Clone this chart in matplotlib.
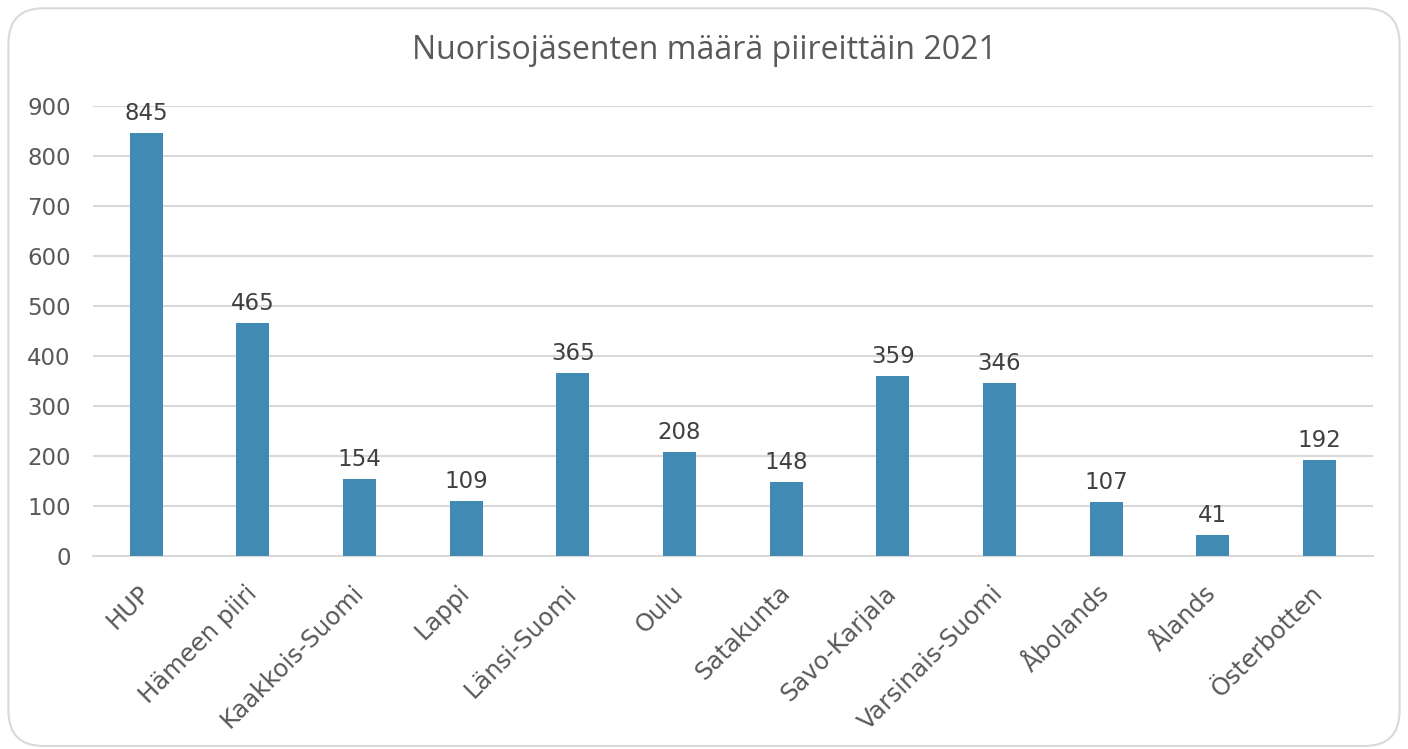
import matplotlib.pyplot as plt
from matplotlib.patches import FancyBboxPatch

plt.rcParams["font.family"] = ["DejaVu Sans"]

# Data
piirit = ["HUP", "Hämeen piiri", "Kaakkois-Suomi", "Lappi", "Länsi-Suomi", "Oulu",
          "Satakunta", "Savo-Karjala", "Varsinais-Suomi", "Åbolands", "Ålands",
          "Österbotten"]
jasenet = [845, 465, 154, 109, 365, 208, 148, 359, 346, 107, 41, 192]

bar_color = "#418AB3"
grid_color = "#D9D9D9"
text_color = "#595959"

fig = plt.figure(figsize=(14.08, 7.49), dpi=100)

# rounded chart frame (behind the axes)
frame = FancyBboxPatch((0.006, 0.004), 0.988, 0.985,
                       boxstyle="round,pad=0,rounding_size=0.025",
                       transform=fig.transFigure, facecolor="white",
                       edgecolor=grid_color, linewidth=1.5,
                       mutation_aspect=1408 / 749, zorder=-10)
fig.patches.append(frame)

ax = fig.add_axes([0.066, 0.2577, 0.909, 0.6008])
ax.set_facecolor("none")

x = range(len(piirit))
bars = ax.bar(x, jasenet, width=0.31, color=bar_color, zorder=3)

for xi, v in zip(x, jasenet):
    ax.annotate(str(v), xy=(xi, v), xytext=(0, 6), textcoords="offset points",
                ha="center", va="bottom", fontsize=16.5, color="#404040")

ax.set_xlim(-0.5, len(piirit) - 0.5)
ax.set_ylim(0, 900)
ax.set_yticks(range(0, 901, 100))
ax.yaxis.grid(True, color=grid_color, linewidth=1.5, zorder=0)
ax.set_axisbelow(True)
ax.tick_params(axis="y", length=0, labelsize=16.5, labelcolor=text_color, pad=16)
ax.tick_params(axis="x", length=0, labelsize=17.5, labelcolor=text_color, pad=24)
ax.set_xticks(list(x))
ax.set_xticklabels(piirit, rotation=45, ha="right", va="center",
                   rotation_mode="anchor")

for side in ["top", "right", "left"]:
    ax.spines[side].set_visible(False)
ax.spines["bottom"].set_color(grid_color)
ax.spines["bottom"].set_linewidth(1.5)

fig.text(0.5, 0.933, "Nuorisojäsenten määrä piireittäin 2021", ha="center",
         va="center", fontsize=23, color=text_color, family="Open Sans")

fig.savefig("out.png", dpi=100)
